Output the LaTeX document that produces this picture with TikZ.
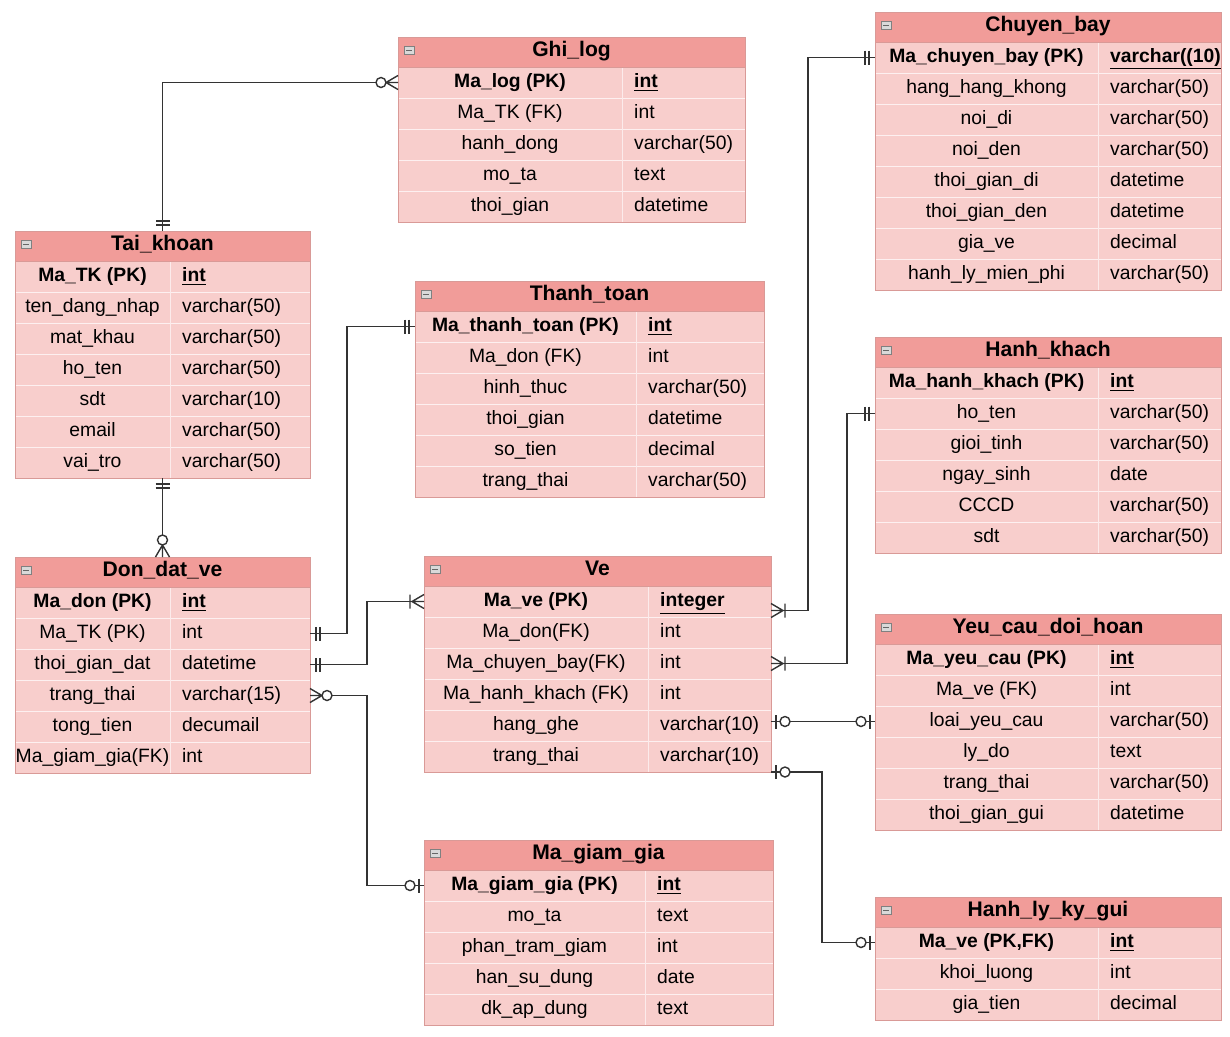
\documentclass[tikz,border=0pt]{standalone}
\usepackage{fontspec}
\setmainfont{Liberation Sans}
\usetikzlibrary{calc}
\usetikzlibrary{positioning}

\definecolor{hdr}{HTML}{F19C99}
\definecolor{body}{HTML}{F8CECC}
\definecolor{edge}{HTML}{D99A97}

\tikzset{
  mk/.style={x=0.02cm,y=0.02cm,thick,draw=black!80},
  one/.pic={\draw (6,-7)--(6,7) (10,-7)--(10,7);},
  omany/.pic={\draw (0,-7)--(12,0)--(0,7) (0,0)--(12,0) (14,-7)--(14,7);},
  zmany/.pic={\draw (0,-7)--(12,0)--(0,7) (0,0)--(12,0); \draw[fill=white] (17,0) circle (5);},
  zone/.pic={\draw (5,-7)--(5,7); \draw[fill=white] (14,0) circle (5);},
  conn/.style={draw=black!80,thick},
  cell/.style={text height=8pt,text depth=2.5pt}
}

% #1 name, #2 x, #3 top, #4 width, #5 split, #6 title, #7 rows, #8 number of rows
\newcommand\ertab[8]{%
  \fill[hdr] (#2,#3) rectangle ++(#4,30);
  \node[font=\fontsize{12}{14}\selectfont\bfseries,cell] (#1-t) at ({#2+#4/2},{#3+15}) {#6};
  \draw[gray,fill=black!15] ({#2+6},{#3+9}) rectangle ++(10,8);
  \draw[black!60] ({#2+8},{#3+13}) -- ++(6,0);
  \foreach \a/\b [count=\i] in {#7} {
    \pgfmathsetmacro\yy{#3+30+(\i-1)*31}
    \fill[body] (#2,\yy) rectangle ++(#4,31);
    \draw[white!70!body] (#2,\yy) -- ++(#4,0);
    \ifnum\i=1
      \node[cell] at ({#2+#5/2},{\yy+15.5}) {\bfseries \a};
      \node[cell,anchor=west] at ({#2+#5+6},{\yy+15.5}) {\bfseries\underline{\b}};
    \else
      \node[cell] at ({#2+#5/2},{\yy+15.5}) {\a};
      \node[cell,anchor=west] at ({#2+#5+6},{\yy+15.5}) {\b};
    \fi
    \coordinate (#1-\i-w) at (#2,{\yy+15.5});
    \coordinate (#1-\i-e) at ({#2+#4},{\yy+15.5});
  }
  \draw[white!60!body] ({#2+#5},{#3+30}) -- ++(0,{31*#8});
  \draw[edge] (#2,#3) rectangle ++(#4,{30+31*#8});
  \draw[edge] (#2,{#3+30}) -- ++(#4,0);
  \coordinate (#1-n) at ({#2+#4/2},#3);
  \coordinate (#1-s) at ({#2+#4/2},{#3+30+31*#8});
  \coordinate (#1-se) at ({#2+#4},{#3+30+31*#8});
}

\begin{document}
\begin{tikzpicture}[x=0.02cm,y=-0.02cm,font=\fontsize{11}{13}\selectfont]
\useasboundingbox (0,0) rectangle (1230,1036);

\ertab{ghi}{398}{37}{347}{224}{Ghi\_log}{Ma\_log (PK)/int, Ma\_TK (FK)/int, hanh\_dong/varchar(50), mo\_ta/text, thoi\_gian/datetime}{5}
\ertab{tk}{15}{231}{295}{155}{Tai\_khoan}{Ma\_TK (PK)/int, ten\_dang\_nhap/varchar(50), mat\_khau/varchar(50), ho\_ten/varchar(50), sdt/varchar(10), email/varchar(50), vai\_tro/varchar(50)}{7}
\ertab{tt}{415}{281}{349}{221}{Thanh\_toan}{Ma\_thanh\_toan (PK)/int, Ma\_don (FK)/int, hinh\_thuc/varchar(50), thoi\_gian/datetime, so\_tien/decimal, trang\_thai/varchar(50)}{6}
\ertab{don}{15}{557}{295}{155}{Don\_dat\_ve}{Ma\_don (PK)/int, Ma\_TK (PK)/int, thoi\_gian\_dat/datetime, trang\_thai/varchar(15), tong\_tien/decumail, Ma\_giam\_gia(FK)/int}{6}
\ertab{ve}{424}{556}{347}{224}{Ve}{Ma\_ve (PK)/integer, Ma\_don(FK)/int, Ma\_chuyen\_bay(FK)/int, Ma\_hanh\_khach (FK)/int, hang\_ghe/varchar(10), trang\_thai/varchar(10)}{6}
\ertab{mgg}{424}{840}{349}{221}{Ma\_giam\_gia}{Ma\_giam\_gia (PK)/int, mo\_ta/text, phan\_tram\_giam/int, han\_su\_dung/date, dk\_ap\_dung/text}{5}
\ertab{cb}{875}{12}{346}{223}{Chuyen\_bay}{Ma\_chuyen\_bay (PK)/varchar((10), hang\_hang\_khong/varchar(50), noi\_di/varchar(50), noi\_den/varchar(50), thoi\_gian\_di/datetime, thoi\_gian\_den/datetime, gia\_ve/decimal, hanh\_ly\_mien\_phi/varchar(50)}{8}
\ertab{hk}{875}{337}{346}{223}{Hanh\_khach}{Ma\_hanh\_khach (PK)/int, ho\_ten/varchar(50), gioi\_tinh/varchar(50), ngay\_sinh/date, CCCD/varchar(50), sdt/varchar(50)}{6}
\ertab{yc}{875}{614}{346}{223}{Yeu\_cau\_doi\_hoan}{Ma\_yeu\_cau (PK)/int, Ma\_ve (FK)/int, loai\_yeu\_cau/varchar(50), ly\_do/text, trang\_thai/varchar(50), thoi\_gian\_gui/datetime}{6}
\ertab{hl}{875}{897}{346}{223}{Hanh\_ly\_ky\_gui}{{Ma\_ve (PK,FK)}/int, khoi\_luong/int, gia\_tien/decimal}{3}

% connectors
\coordinate (ve-cb) at ($(ve-1-e)+(0,9)$);
\coordinate (ve-yc) at (ve-5-e |- yc-3-w);
\draw[conn] (ghi-1-w) -| (tk-n);
\draw[conn] (tk-s) -- (don-n);
\draw[conn] (don-2-e) -- ++(37,0) |- (tt-1-w);
\draw[conn] (don-3-e) -- ++(57,0) |- (ve-1-w);
\draw[conn] (don-4-e) -- ++(57,0) |- (mgg-1-w);
\draw[conn] (ve-cb) -- ++(37,0) |- (cb-1-w);
\draw[conn] (ve-3-e) -- ++(76,0) |- (hk-2-w);
\draw[conn] (ve-yc) -- (yc-3-w);
\draw[conn] (ve-se) -- ++(51,0) |- (hl-1-w);

% ends
\pic[mk,rotate=180] at (ghi-1-w) {zmany};
\pic[mk,rotate=90] at (tk-n) {one};
\pic[mk,rotate=270] at (tk-s) {one};
\pic[mk,rotate=90] at (don-n) {zmany};
\pic[mk] at (don-2-e) {one};
\pic[mk,rotate=180] at (tt-1-w) {one};
\pic[mk] at (don-3-e) {one};
\pic[mk,rotate=180] at (ve-1-w) {omany};
\pic[mk] at (don-4-e) {zmany};
\pic[mk,rotate=180] at (mgg-1-w) {zone};
\pic[mk] at (ve-cb) {omany};
\pic[mk,rotate=180] at (cb-1-w) {one};
\pic[mk] at (ve-3-e) {omany};
\pic[mk,rotate=180] at (hk-2-w) {one};
\pic[mk] at (ve-yc) {zone};
\pic[mk,rotate=180] at (yc-3-w) {zone};
\pic[mk] at (ve-se) {zone};
\pic[mk,rotate=180] at (hl-1-w) {zone};
\end{tikzpicture}
\end{document}
